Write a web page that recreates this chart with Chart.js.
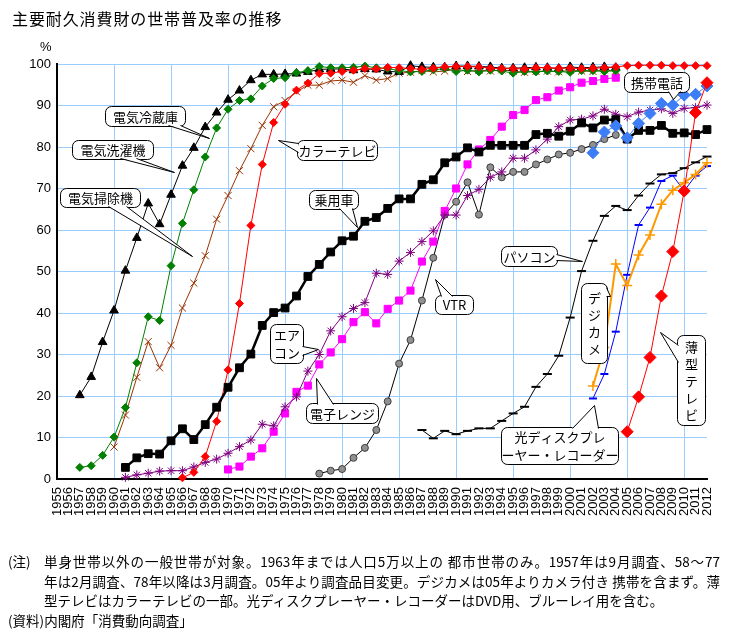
<!DOCTYPE html>
<html lang="ja">
<head>
<meta charset="utf-8">
<title>主要耐久消費財の世帯普及率の推移</title>
<script src="https://cdn.jsdelivr.net/npm/chart.js@4.4.1/dist/chart.umd.min.js"></script>
<style>
  body { margin: 0; background: #fff; }
  #wrap { position: relative; width: 744px; height: 635px; font-family: "Noto Sans CJK JP", sans-serif; color: #000; }
  #chart { position: absolute; left: 0; top: 0; }
  .txt { position: absolute; white-space: nowrap; }
  #title { left: 12px; top: 6px; font-size: 16px; letter-spacing: 0.9px; }
  #unit { left: 40px; top: 39px; font: 13px "Liberation Sans", Arial, sans-serif; }
  .note { position: absolute; font-size: 13.5px; line-height: 19px; }
  .just { width: 676px; text-align: justify; text-align-last: justify; }
</style>
</head>
<body>
<div id="wrap">
  <canvas id="chart" width="744" height="635"></canvas>
  <div class="txt" id="title">主要耐久消費財の世帯普及率の推移</div>
  <div class="txt" id="unit">%</div>
  <div class="note" style="left:8px; top:552px;">(注)</div>
  <div class="note just" style="left:44px; top:552px;">単身世帯以外の一般世帯が対象。1963年までは人口5万以上の 都市世帯のみ。1957年は9月調査、58～77</div>
  <div class="note just" style="left:44px; top:572px;">年は2月調査、78年以降は3月調査。05年より調査品目変更。デジカメは05年よりカメラ付き 携帯を含まず。薄</div>
  <div class="note" style="left:44px; top:591px;">型テレビはカラーテレビの一部。光ディスクプレーヤー・レコーダーはDVD用、ブルーレイ用を含む。</div>
  <div class="note" style="left:8px; top:611px;">(資料)内閣府「消費動向調査」</div>
</div>
<script>
const firstYear = 1955;
const lastYear = 2012;
const years = [];
for (let y = firstYear; y <= lastYear; y++) years.push(String(y));

// 普及率 (%), each list starts at the given year
const washerStart = 1957;
const washer = [20.2, 24.6, 33.0, 40.6, 50.2, 58.1, 66.4, 61.4, 68.5, 75.5,
  79.8, 84.8, 88.3, 91.4, 93.6, 96.1, 97.5, 97.5, 97.6, 97.7,
  98.1, 98.7, 98.8, 98.8, 98.5, 98.8, 98.7, 98.2, 98.1, 99.6,
  99.3, 99.2, 99.2, 99.5, 99.5, 99.4, 99.3, 99.0, 99.0, 99.1,
  99.2, 99.1, 98.9, 99.3, 99.1, 99.2, 99.3, 99.1];

const fridgeStart = 1957;
const fridge = [2.8, 3.2, 5.7, 10.1, 17.2, 28.0, 39.1, 38.2, 51.4, 61.6,
  69.7, 77.6, 84.6, 89.1, 91.2, 91.6, 94.7, 96.5, 96.7, 97.9,
  98.4, 99.4, 99.1, 99.1, 99.2, 99.5, 99.1, 98.9, 98.4, 98.1,
  98.2, 98.6, 98.9, 98.2, 98.5, 98.1, 98.5, 98.3, 97.8, 98.2,
  98.1, 98.3, 98.2, 98.0, 98.4, 98.4, 98.2, 98.4];

const vacuumStart = 1960;
const vacuum = [7.7, 15.4, 24.5, 33.1, 26.8, 32.2, 41.2, 47.2, 53.8, 62.6,
  68.3, 74.3, 79.6, 85.2, 89.7, 91.2, 93.3, 94.9, 94.9, 95.9,
  96.1, 95.6, 97.2, 96.1, 96.5, 97.8, 98.0, 98.4, 98.1, 98.3,
  98.8, 98.2, 98.5, 98.3, 98.6, 98.3, 98.0, 98.2, 98.3, 98.1,
  98.5, 98.3, 98.2, 98.6, 98.3];

const colorTvStart = 1966;
const colorTv = [0.3, 1.6, 5.4, 13.9, 26.3, 42.3, 61.1, 75.8, 85.9, 90.3,
  93.7, 95.4, 97.7, 97.8, 98.2, 98.5, 98.9, 98.8, 99.2, 99.1,
  98.9, 98.7, 99.0, 99.3, 99.4, 99.4, 99.3, 99.0, 98.9, 98.9,
  98.8, 99.1, 99.1, 99.0, 99.0, 98.9, 99.0, 99.1, 99.3, 99.6,
  99.7, 99.7, 99.7, 99.6, 99.6, 99.6, 99.6];

const carStart = 1961;
const car = [2.8, 5.1, 6.1, 6.0, 9.2, 12.1, 9.5, 13.1, 17.3, 22.1,
  26.8, 30.1, 37.0, 40.1, 41.2, 44.1, 48.8, 51.7, 54.7, 57.4,
  58.5, 62.1, 63.0, 65.2, 67.5, 67.5, 71.0, 72.1, 76.2, 77.6,
  79.8, 78.8, 80.4, 80.4, 80.4, 80.4, 83.0, 83.3, 82.6, 83.8,
  85.8, 84.6, 86.5, 86.6, 81.9, 84.0, 84.0, 85.2, 83.3, 83.4,
  83.0, 84.2];

const airconStart = 1961;
const aircon = [0.4, 1.0, 1.4, 1.9, 2.0, 2.0, 2.9, 4.0, 4.8, 6.2,
  7.8, 9.4, 13.2, 12.8, 17.4, 19.8, 26.0, 30.0, 35.7, 39.1,
  41.1, 42.5, 49.6, 49.3, 52.5, 54.6, 57.2, 59.8, 63.6, 63.6,
  68.3, 69.8, 72.7, 74.0, 77.3, 77.3, 79.3, 81.9, 84.9, 86.5,
  86.7, 87.5, 89.1, 87.9, 87.3, 88.4, 88.9, 89.2, 88.1, 89.3,
  89.5, 90.1];

const microwaveStart = 1970;
const microwave = [2.3, 3.0, 5.4, 7.4, 11.4, 15.8, 21.0, 22.5, 27.6, 30.5,
  33.7, 37.8, 40.2, 37.5, 41.0, 43.0, 45.4, 52.4, 57.2, 64.6,
  70.0, 75.8, 79.4, 81.7, 84.9, 87.7, 88.9, 91.3, 92.0, 93.6,
  94.4, 95.5, 95.9, 96.4, 96.7];

const vtrStart = 1978;
const vtr = [1.3, 2.0, 2.4, 5.1, 7.5, 11.8, 18.7, 27.8, 33.5, 43.0,
  53.3, 63.7, 66.8, 71.5, 63.7, 75.1, 72.7, 74.0, 74.0, 75.8,
  77.0, 78.2, 78.6, 79.5, 80.5, 81.9, 82.9];

const pcStart = 1987;
const pc = [11.8, 9.8, 11.6, 10.8, 11.6, 12.2, 12.2, 14.0, 15.8, 17.4,
  22.2, 25.3, 29.7, 38.9, 50.1, 57.4, 63.4, 65.8, 64.8, 68.3,
  71.2, 73.4, 73.7, 74.9, 76.3, 77.7];

const mobileStart = 2002;
const mobile = [78.6, 83.6, 85.1, 82.2, 85.7, 88.1, 90.5, 90.1, 92.5, 92.7, 94.7];

const digicamStart = 2002;
const digicam = [22.4, 31.7, 51.8, 46.6, 54.0, 58.8, 66.2, 69.6, 71.4, 73.4, 76.2];

const discStart = 2002;
const disc = [19.4, 25.3, 35.5, 49.2, 61.2, 65.4, 71.8, 73.1, 69.4, 73.1, 75.4];

const flatTvStart = 2005;
const flatTv = [11.4, 19.8, 29.3, 44.1, 54.8, 69.4, 88.3, 95.5];

const yTicks = [0, 10, 20, 30, 40, 50, 60, 70, 80, 90, 100];

// put a series on the full year axis
const pad = (start, values) => years.map((y, i) => {
  const k = Number(y) - start;
  return k >= 0 && k < values.length ? values[k] : null;
});

const series = (label, start, values, color, style, radius, width, extra) => Object.assign({
  label: label,
  data: pad(start, values),
  borderColor: color,
  backgroundColor: color,
  pointBackgroundColor: color,
  pointBorderColor: color,
  pointStyle: style,
  pointRadius: radius,
  pointBorderWidth: 1,
  borderWidth: width,
  tension: 0,
  clip: false
}, extra || {});

// callout boxes: box [x, y, w, h], pointer base points and tip (px)
const callouts = [
  { lines: ["電気冷蔵庫"], box: [105, 106, 80, 20], base: [[168, 125], [180, 125]], tip: [209, 138] },
  { lines: ["電気洗濯機"], box: [72, 140, 81, 19], base: [[120, 158], [136, 158]], tip: [174, 172] },
  { lines: ["電気掃除機"], box: [60, 188, 80, 19], base: [[108, 206], [126, 206]], tip: [192, 256] },
  { lines: ["カラーテレビ"], box: [297, 140, 80, 20], base: [[298, 143], [298, 152]], tip: [278, 140] },
  { lines: ["乗用車"], box: [309, 190, 49, 19], base: [[339, 208], [352, 208]], tip: [357, 227] },
  { lines: ["エア", "コン"], box: [270, 324, 33, 39], base: [[302, 346], [302, 355]], tip: [318, 349] },
  { lines: ["電子レンジ"], box: [306, 403, 72, 20], base: [[317, 404], [333, 404]], tip: [316, 378] },
  { lines: ["VTR"], box: [435, 295, 38, 19], base: [[441, 296], [452, 296]], tip: [435, 279] },
  { lines: ["パソコン"], box: [501, 246, 56, 20], base: [[556, 254], [556, 260]], tip: [582, 261] },
  { lines: ["デ", "ジ", "カ", "メ"], box: [581, 283, 26, 80], base: [[606, 287], [606, 296]], tip: [610, 296], vertical: true },
  { lines: ["光ディスクプレ", "ーヤー・レコーダー"], box: [501, 427, 117, 37], base: [[572, 428], [598, 428]], tip: [594, 405] },
  { lines: ["携帯電話"], box: [624, 72, 65, 20], base: [[668, 91], [680, 91]], tip: [673, 99] },
  { lines: ["薄", "型", "テ", "レ", "ビ"], box: [677, 335, 28, 90], base: [[678, 345], [678, 362]], tip: [660, 332], vertical: true }
];

const calloutPlugin = {
  id: "callouts",
  afterDatasetsDraw(chart) {
    const ctx = chart.ctx;
    ctx.save();
    ctx.lineWidth = 1;
    ctx.strokeStyle = "#000";
    ctx.fillStyle = "#fff";
    ctx.font = '13px "Noto Sans CJK JP", sans-serif';
    ctx.textAlign = "center";
    ctx.textBaseline = "middle";
    callouts.forEach(c => {
      const [x, y, w, h] = c.box;
      ctx.fillStyle = "#fff";
      ctx.beginPath();
      ctx.roundRect(x + 0.5, y + 0.5, w, h, 6);
      ctx.fill();
      ctx.stroke();
      const [b1, b2] = c.base;
      ctx.beginPath();
      ctx.moveTo(b1[0], b1[1]);
      ctx.lineTo(c.tip[0], c.tip[1]);
      ctx.lineTo(b2[0], b2[1]);
      ctx.closePath();
      ctx.fill();
      ctx.beginPath();
      ctx.moveTo(b1[0] + 0.5, b1[1] + 0.5);
      ctx.lineTo(c.tip[0] + 0.5, c.tip[1] + 0.5);
      ctx.lineTo(b2[0] + 0.5, b2[1] + 0.5);
      ctx.stroke();
      ctx.fillStyle = "#000";
      const step = c.vertical ? 17 : 18;
      const cx = x + w / 2 + 0.5;
      const y0 = y + h / 2 - (c.lines.length - 1) * step / 2 + 1;
      c.lines.forEach((t, i) => ctx.fillText(t, cx, y0 + i * step));
    });
    ctx.restore();
  }
};

const gridBlue = "#99ccff";

new Chart(document.getElementById("chart"), {
  type: "line",
  data: {
    labels: years,
    datasets: [
      series("薄型テレビ", flatTvStart, flatTv, "#ff0000", "rectRot", 6, 1),
      series("携帯電話", mobileStart, mobile, "#3d7df5", "rectRot", 6, 1),
      series("デジカメ", digicamStart, digicam, "#ff9900", "cross", 5, 2, { pointBorderWidth: 1.5 }),
      series("光ディスクプレーヤー・レコーダー", discStart, disc, "#0000ff", "line", 4, 1, { pointBorderWidth: 2 }),
      series("パソコン", pcStart, pc, "#000000", "line", 4.5, 1, { pointBorderWidth: 2 }),
      series("乗用車", carStart, car, "#000000", "rect", 5.5, 2.5),
      series("カラーテレビ", colorTvStart, colorTv, "#ff0000", "rectRot", 4, 1),
      series("電気冷蔵庫", fridgeStart, fridge, "#008000", "rectRot", 4, 1),
      series("電気洗濯機", washerStart, washer, "#000000", "triangle", 5, 1),
      series("電気掃除機", vacuumStart, vacuum, "#993300", "crossRot", 5, 1),
      series("エアコン", airconStart, aircon, "#800080", "star", 4.5, 1),
      series("電子レンジ", microwaveStart, microwave, "#ff00ff", "rect", 5, 1),
      series("VTR", vtrStart, vtr, "#000000", "circle", 3.5, 1, { pointBackgroundColor: "#909090", pointBorderColor: "#404040" })
    ]
  },
  options: {
    responsive: false,
    animation: false,
    devicePixelRatio: 1,
    layout: { padding: { left: 0, top: 64, right: 37, bottom: 0 } },
    plugins: {
      legend: { display: false },
      tooltip: { enabled: false }
    },
    scales: {
      x: {
        type: "category",
        offset: false,
        grid: {
          color: ctx => ctx.index % 5 === 0 ? gridBlue : "rgba(0,0,0,0)",
          drawTicks: false,
          lineWidth: 1
        },
        border: { color: "#000", width: 2 },
        ticks: {
          autoSkip: false,
          maxRotation: 90,
          minRotation: 90,
          padding: 8,
          color: "#000",
          font: { family: '"Liberation Sans", Arial, sans-serif', size: 13 }
        },
        afterFit: scale => { scale.height = 156; }
      },
      y: {
        min: 0,
        max: 100,
        afterBuildTicks: scale => { scale.ticks = yTicks.map(v => ({ value: v })); },
        grid: { color: gridBlue, drawTicks: false, lineWidth: 1 },
        border: { color: "#000", width: 2 },
        ticks: {
          padding: 6,
          color: "#000",
          font: { family: '"Liberation Sans", Arial, sans-serif', size: 13 }
        },
        afterFit: scale => { scale.width = 57; }
      }
    }
  },
  plugins: [calloutPlugin]
});
</script>
</body>
</html>
